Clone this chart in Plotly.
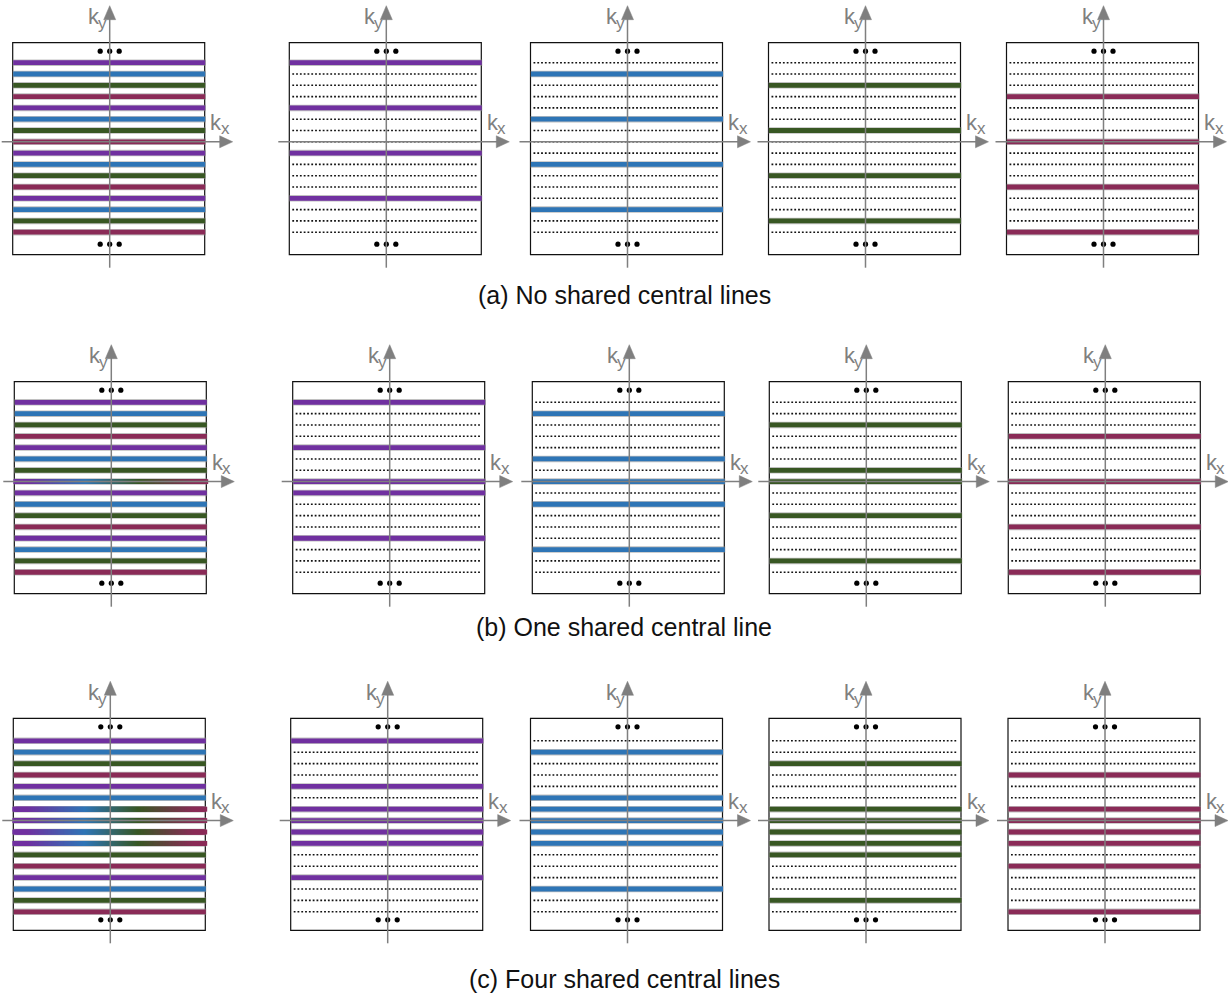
import numpy as np
import plotly.graph_objects as go

W, H = 1228, 998

# ---------------- data ----------------
N_ROWS = 16
COLOR_NAMES = ["purple", "blue", "green", "maroon"]
COLORS = {"purple": "#7030A0", "blue": "#2E75B6", "green": "#385723", "maroon": "#8A2B57"}

ROWS_A = {"purple": [0, 4, 8, 12], "blue": [1, 5, 9, 13],
          "green": [2, 6, 10, 14], "maroon": [3, 7, 11, 15]}
ROWS_B = {"purple": [0, 4, 7, 8, 12], "blue": [1, 5, 7, 9, 13],
          "green": [2, 6, 7, 10, 14], "maroon": [3, 7, 11, 15]}
ROWS_C = {"purple": [0, 4, 6, 7, 8, 9, 12], "blue": [1, 5, 6, 7, 8, 9, 13],
          "green": [2, 6, 7, 8, 9, 10, 14], "maroon": [3, 6, 7, 8, 9, 11, 15]}
SCHEMES = [ROWS_A, ROWS_B, ROWS_C]
CAPTIONS = ["(a) No shared central lines", "(b) One shared central line",
            "(c) Four shared central lines"]
AXIS_NAME = "k"
AXIS_SUBS = ["x", "y"]
GRADIENT_STOPS = [0.08, 0.38, 0.66, 0.95]   # where each colour peaks along a shared line

# ---------------- layout constants ----------------
ROW_TOPS = [42.7, 381.7, 718.3]
PANEL_LEFTS = [[12.7, 289.3, 530.5, 768.5, 1006.5],
               [14.3, 292.7, 532.3, 769.3, 1008.3],
               [13.3, 290.7, 530.5, 769.0, 1008.0]]
BOX_W, BOX_H = 192, 212
ROW_OFFSET = [20.0, 20.6, 22.5]
ROW_STEP = [11.3, 11.33, 11.4]
CAPTION_Y = [295, 627, 979]
AXIS_GRAY = "#7F7F7F"
LABEL_FONT = "Liberation Sans"


def hex2rgb(h):
    h = h.lstrip("#")
    return np.array([int(h[i:i + 2], 16) for i in (0, 2, 4)], dtype=float)


def grad_color(t):
    stops = GRADIENT_STOPS
    cols = [hex2rgb(COLORS[c]) for c in COLOR_NAMES]
    if t <= stops[0]:
        c = cols[0]
    elif t >= stops[-1]:
        c = cols[-1]
    else:
        for i in range(len(stops) - 1):
            if stops[i] <= t <= stops[i + 1]:
                f = (t - stops[i]) / (stops[i + 1] - stops[i])
                c = cols[i] * (1 - f) + cols[i + 1] * f
                break
    return "rgb(%d,%d,%d)" % tuple(int(round(v)) for v in c)


fig = go.Figure()
shapes = []
annotations = []


def add_line(xs, ys, color, width, dash=None):
    fig.add_trace(go.Scatter(x=xs, y=ys, mode="lines", hoverinfo="skip",
                             line=dict(color=color, width=width, dash=dash),
                             showlegend=False))


def add_text(x, y, text, size, color):
    annotations.append(dict(x=x, y=y, xref="x", yref="y", text=text, showarrow=False,
                            xanchor="center", yanchor="middle",
                            font=dict(family=LABEL_FONT, size=size, color=color)))


for s, rows in enumerate(SCHEMES):
    top = ROW_TOPS[s]
    bottom = top + BOX_H
    for p in range(5):
        left = PANEL_LEFTS[s][p]
        right = left + BOX_W
        ax_x = left + 97
        row_y = [top + ROW_OFFSET[s] + r * ROW_STEP[s] for r in range(N_ROWS)]
        ax_y = row_y[7]

        # box
        shapes.append(dict(type="rect", xref="x", yref="y", x0=left, x1=right,
                           y0=top, y1=bottom, line=dict(color="#111111", width=1.2),
                           layer="below"))

        solid = {c: ([], []) for c in COLOR_NAMES}
        under = ([], [])
        dotted = ([], [])
        grads = []
        for r in range(N_ROWS):
            present = [c for c in COLOR_NAMES if r in rows[c]]
            y = row_y[r]
            if p == 0:
                if len(present) == 1:
                    solid[present[0]][0].extend([left + 0.5, right + 0.5, None])
                    solid[present[0]][1].extend([y, y, None])
                    under[0].extend([left, right + 1, None])
                    under[1].extend([y, y, None])
                elif len(present) > 1:
                    grads.append(y)
                    under[0].extend([left, right + 1, None])
                    under[1].extend([y, y, None])
            else:
                c = COLOR_NAMES[p - 1]
                if c in present:
                    solid[c][0].extend([left + 0.5, right + 0.5, None])
                    solid[c][1].extend([y, y, None])
                    under[0].extend([left, right + 1, None])
                    under[1].extend([y, y, None])
                else:
                    dotted[0].extend([left + 3, right - 3, None])
                    dotted[1].extend([y, y, None])

        if under[0]:
            add_line(under[0], under[1], "rgba(140,140,140,0.55)", 6.5)
        for c in COLOR_NAMES:
            if solid[c][0]:
                add_line(solid[c][0], solid[c][1], COLORS[c], 4.8)
        if dotted[0]:
            add_line(dotted[0], dotted[1], "#111111", 1.6, dash="1.8px,2px")
        for y in grads:
            xs = np.arange(left + 1.5, right, 1.0)
            cols = [grad_color((x - left) / BOX_W) for x in xs]
            fig.add_trace(go.Scatter(x=xs, y=[y] * len(xs), mode="markers",
                                     hoverinfo="skip", showlegend=False,
                                     marker=dict(symbol="square", size=4.8, color=cols,
                                                 line=dict(width=0))))

        # ellipsis dots
        fig.add_trace(go.Scatter(x=[ax_x - 9.5, ax_x, ax_x + 9.5] * 2,
                                 y=[top + 8.5] * 3 + [bottom - 10.5] * 3,
                                 mode="markers", hoverinfo="skip", showlegend=False,
                                 marker=dict(color="#000000", size=5.2)))

        # axes
        add_line([ax_x, ax_x], [top - 24, bottom + 13], AXIS_GRAY, 1.5)
        add_line([left - 11, right + 16], [ax_y, ax_y], AXIS_GRAY, 1.5)
        # arrow heads
        fig.add_trace(go.Scatter(x=[ax_x - 6, ax_x, ax_x + 6, ax_x - 6],
                                 y=[top - 23, top - 37, top - 23, top - 23],
                                 mode="lines", fill="toself", fillcolor=AXIS_GRAY,
                                 line=dict(color=AXIS_GRAY, width=0.5),
                                 hoverinfo="skip", showlegend=False))
        fig.add_trace(go.Scatter(x=[right + 15, right + 28, right + 15, right + 15],
                                 y=[ax_y - 6, ax_y, ax_y + 6, ax_y - 6],
                                 mode="lines", fill="toself", fillcolor=AXIS_GRAY,
                                 line=dict(color=AXIS_GRAY, width=0.5),
                                 hoverinfo="skip", showlegend=False))

        # axis labels k_y and k_x
        add_text(ax_x - 16, top - 26, AXIS_NAME, 22, AXIS_GRAY)
        add_text(ax_x - 7.5, top - 19, AXIS_SUBS[1], 17, AXIS_GRAY)
        add_text(right + 11.5, ax_y - 19.5, AXIS_NAME, 22, AXIS_GRAY)
        add_text(right + 20.5, ax_y - 13, AXIS_SUBS[0], 17, AXIS_GRAY)

    add_text(624, CAPTION_Y[s], CAPTIONS[s], 25, "#111111")

fig.update_layout(
    width=W, height=H,
    margin=dict(l=0, r=0, t=0, b=0),
    paper_bgcolor="white", plot_bgcolor="white",
    xaxis=dict(range=[0, W], visible=False, fixedrange=True),
    yaxis=dict(range=[H, 0], visible=False, fixedrange=True),
    shapes=shapes, annotations=annotations,
    showlegend=False,
)

fig.write_html("out.html", config={"displayModeBar": False})
